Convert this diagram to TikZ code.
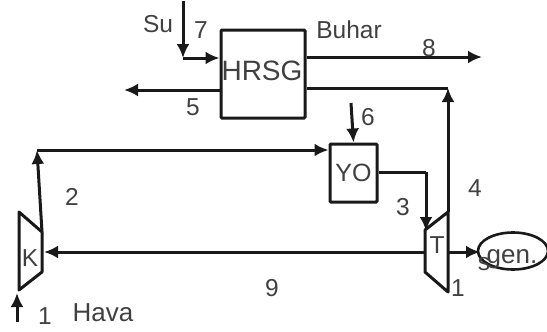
\documentclass[tikz,border=0pt]{standalone}
\usepackage{fontspec}
\setmainfont{Liberation Sans}
\usetikzlibrary{arrows.meta,shapes.geometric}
\tikzset{
  line/.style={line width=3pt,draw=black!90},
  flow/.style={line,-{Latex[length=14pt,width=13pt]}},
  unit/.style={draw=black!90,line width=3pt,rectangle,rounded corners=1pt,inner sep=0pt,font=\fontsize{25}{25}\selectfont,text=black!75},
  lbl/.style={inner sep=0pt,font=\fontsize{24.5}{24.5}\selectfont,text=black!75},
}
\begin{document}
\begin{tikzpicture}[x=1pt,y=-1pt]
\useasboundingbox (0,0) rectangle (547,332);
% units
\node[unit,minimum width=84pt,minimum height=88pt] (hrsg) at (263,74) {};
\node[lbl,font=\fontsize{28}{28}\selectfont] (hrsgt) at (262,71) {HRSG};
\node[unit,minimum width=47pt,minimum height=58pt] (yo) at (353.5,173) {YO};
\coordinate (ka) at (19,212); \coordinate (kb) at (42,232); \coordinate (kc) at (42,272); \coordinate (kd) at (19,290);
\coordinate (ta) at (425,230); \coordinate (tb) at (448,212); \coordinate (tc) at (448,292); \coordinate (td) at (425,272);
\draw[line,line join=round] (ka)--(kb)--(kc)--(kd)--cycle;
\draw[line,line join=round] (ta)--(tb)--(tc)--(td)--cycle;
\node[lbl] (k) at (30,258) {K};
\node[lbl] (t) at (437,245) {T};
\node[draw=black!90,line width=2.6pt,ellipse,minimum width=70pt,minimum height=37pt,inner sep=0pt] (gen) at (513,251) {};
\node[lbl] (s) at (484,264) {s};
\node[lbl,font=\fontsize{26}{26}\selectfont] (gent) at (512,259) {gen.};
% water and steam
\coordinate (w1) at (183,1);
\coordinate (w2) at (183,58);
\draw[flow] (w1)--(w2);
\draw[flow] (w2)--(hrsg.west|-w2);
\coordinate (st) at (482,57);
\draw[flow] (hrsg.east|-st)--(st);
\coordinate (ex) at (124,90);
\draw[flow] (hrsg.west|-ex)--(ex);
% exhaust
\coordinate (e1) at (448,88);
\draw[line] (hrsg.east|-e1)--(e1);
\draw[flow] (tb)--(e1);
% air and compressor
\coordinate (c2) at (37,150);
\draw[flow] (kb)--(c2);
\draw[flow] (c2)--(yo.west|-c2);
\coordinate (fu) at (351,103);
\draw[flow] (fu)--(yo.north);
\coordinate (t1) at (426,172);
\coordinate (t2) at (426,231);
\draw[line] (yo.east|-t1)--(t1);
\draw[flow] (t1)--(t2);
\coordinate (s1) at (425,252);
\coordinate (s2) at (44,252);
\draw[flow] (s1)--(s2);
\coordinate (g1) at (448,252);
\coordinate (g2) at (480,252);
\draw[flow] (g1)--(g2);
\coordinate (a1) at (17,322);
\coordinate (a2) at (17,293);
\draw[flow] (a1)--(a2);
% labels
\node[lbl] (su) at (158,24) {Su};
\node[lbl] (n7) at (201,30) {7};
\node[lbl] (buhar) at (349,30) {Buhar};
\node[lbl] (n8) at (429,48) {8};
\node[lbl] (n5) at (193,107) {5};
\node[lbl] (n6) at (368,117) {6};
\node[lbl] (n2) at (72,197) {2};
\node[lbl] (n3) at (403,207) {3};
\node[lbl] (n4) at (475,188) {4};
\node[lbl] (n9) at (272,288) {9};
\node[lbl] (n1b) at (458,288) {1};
\node[lbl] (n1a) at (45,316) {1};
\node[lbl,font=\fontsize{26}{26}\selectfont] (hava) at (103,313) {Hava};
\end{tikzpicture}
\end{document}
